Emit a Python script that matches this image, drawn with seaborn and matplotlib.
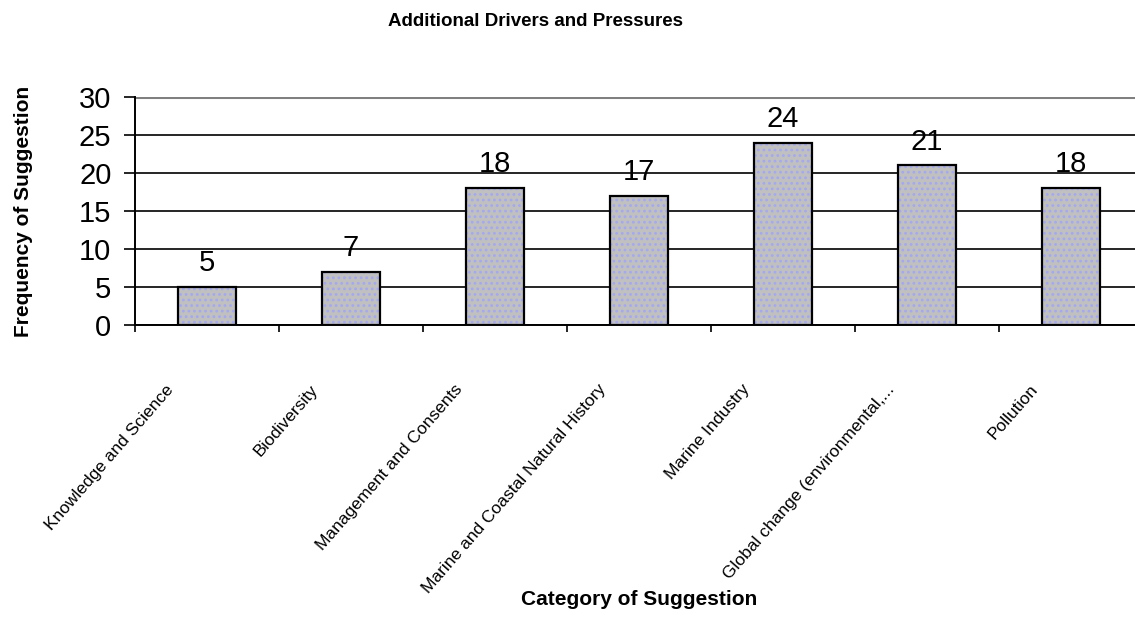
import matplotlib
matplotlib.use("Agg")
import matplotlib.pyplot as plt
import matplotlib.transforms as mtransforms
import pandas as pd
import seaborn as sns

# Suggestion categories and how often each came up
categories = [
    "Knowledge and Science",
    "Biodiversity",
    "Management and Consents",
    "Marine and Coastal Natural History",
    "Marine Industry",
    "Global change (environmental,...",
    "Pollution",
]
frequency = [5, 7, 18, 17, 24, 21, 18]
y_ticks = [0, 5, 10, 15, 20, 25, 30]

sns.set_theme(style="white")
plt.rcParams["font.family"] = ["Liberation Sans", "DejaVu Sans"]
plt.rcParams["hatch.linewidth"] = 1.2

df = pd.DataFrame({"category": categories, "frequency": frequency})

W, H = 1135, 630
fig = plt.figure(figsize=(W / 100, H / 100), dpi=100)
ax = fig.add_axes([135 / W, 1 - 325 / H, 1008 / W, 228 / H])

# grey bars with a fine blue dot pattern
sns.barplot(data=df, x="category", y="frequency", ax=ax, width=0.4,
            color="#c0c0c0", saturation=1, edgecolor="#a4a8f0",
            linewidth=0, hatch="...", zorder=2)
# black outlines on top of the fill
sns.barplot(data=df, x="category", y="frequency", ax=ax, width=0.4,
            fill=False, color="black", linewidth=1.6, zorder=3)

ax.bar_label(ax.containers[0], labels=[str(v) for v in frequency],
             padding=7, fontsize=21, color="black")

ax.set_ylim(0, 30)
ax.set_yticks(y_ticks)
ax.set_xlim(-0.5, len(categories) - 0.5)

# horizontal gridlines, the top one in grey
ax.set_axisbelow(True)
ax.yaxis.grid(True, color="black", linewidth=1.2)
ax.xaxis.grid(False)
for val, gl in zip(y_ticks, ax.get_ygridlines()):
    if val == 30:
        gl.set_color("#808080")
        gl.set_linewidth(2.2)

for side in ("top", "right"):
    ax.spines[side].set_visible(False)
for side in ("left", "bottom"):
    ax.spines[side].set_color("black")
    ax.spines[side].set_linewidth(1.4)

ax.tick_params(axis="y", which="major", direction="out", length=8, width=1.2,
               color="black", pad=9, labelsize=21, left=True)
for t in ax.get_yticklabels():
    t.set_color("black")

# category boundary ticks on the x axis
ax.set_xticks([i - 0.5 for i in range(len(categories) + 1)], minor=True)
ax.tick_params(axis="x", which="minor", direction="out", length=5, width=1.2,
               color="black", bottom=True)
ax.tick_params(axis="x", which="major", length=0, pad=0)
ax.set_xticks(range(len(categories)))
ax.set_xticklabels(categories, rotation=49, ha="right", va="top",
                   fontsize=12.5, color="black")
shift = mtransforms.ScaledTranslation(-30 / 100, -57 / 100, fig.dpi_scale_trans)
for lbl in ax.get_xticklabels():
    lbl.set_transform(lbl.get_transform() + shift)

ax.set_xlabel("Category of Suggestion", fontsize=15, fontweight="bold",
              color="black")
ax.xaxis.set_label_coords(0.5, (325 - 590) / 228)
ax.set_ylabel("Frequency of Suggestion", fontsize=15, fontweight="bold",
              color="black")
ax.yaxis.set_label_coords((33 - 135) / 1008, 0.5)

fig.text(536 / W, 1 - 21 / H, "Additional Drivers and Pressures",
         ha="center", va="center", fontsize=13.5, fontweight="bold",
         color="black")

fig.savefig("out.png", dpi=100, facecolor="white")
